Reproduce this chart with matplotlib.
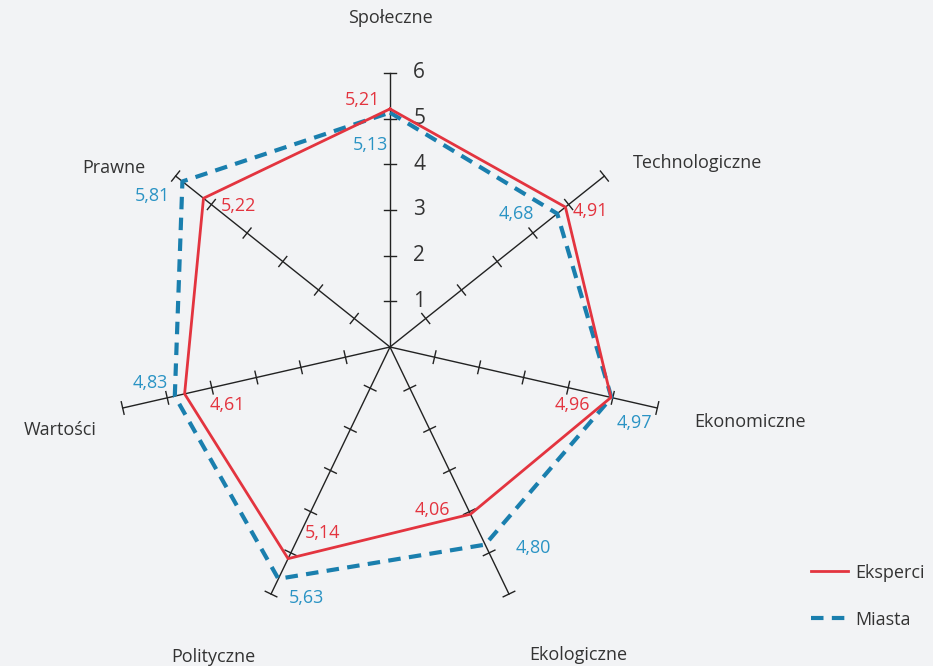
import numpy as np
import matplotlib.pyplot as plt

categories = ["Społeczne", "Technologiczne", "Ekonomiczne", "Ekologiczne",
              "Polityczne", "Wartości", "Prawne"]
eksperci = [5.21, 4.91, 4.96, 4.06, 5.14, 4.61, 5.22]
miasta = [5.13, 4.68, 4.97, 4.80, 5.63, 4.83, 5.81]
ticks = [1, 2, 3, 4, 5, 6]

bg = "#f2f3f5"
red = "#e3343f"
blue = "#1a7fae"
blue_txt = "#2a93c4"
txt = "#333333"

n = len(categories)
ang = np.pi / 2 - np.arange(n) * 2 * np.pi / n

fig = plt.figure(figsize=(9.33, 6.66), dpi=100, facecolor=bg)
ax = fig.add_axes([0, 0, 1, 1])
ax.set_facecolor(bg)
s = 45.7  # px per unit
ax.set_xlim(-390 / s, (933 - 390) / s)
ax.set_ylim(-(666 - 347) / s, 347 / s)
ax.axis("off")

# axes and ticks
for a in ang:
    ax.plot([0, 6 * np.cos(a)], [0, 6 * np.sin(a)], color="#222222", lw=1, zorder=1)
    px, py = -np.sin(a), np.cos(a)
    for t in ticks:
        cx, cy = t * np.cos(a), t * np.sin(a)
        ax.plot([cx - 0.14 * px, cx + 0.14 * px], [cy - 0.14 * py, cy + 0.14 * py],
                color="#222222", lw=1, zorder=1)

for t in ticks:
    ax.text(0.64, t, str(t), fontsize=15, color=txt, ha="center", va="center",
            family="Open Sans")

# series
def closed(v):
    v = np.array(v + v[:1])
    aa = np.append(ang, ang[0])
    return v * np.cos(aa), v * np.sin(aa)

x, y = closed(miasta)
ax.plot(x, y, color=blue, lw=3, ls=(0, (3, 2)), label="Miasta", zorder=3)
x, y = closed(eksperci)
ax.plot(x, y, color=red, lw=2, label="Eksperci", zorder=4)

# category labels (pixel positions)
cat_pos = [(390, 18), (698, 163), (750, 422), (578, 655), (213, 657), (60, 430), (114, 168)]
for c, (px_, py_) in zip(categories, cat_pos):
    ax.text((px_ - 390) / s, (347 - py_) / s, c, fontsize=13, color=txt,
            ha="center", va="center", family="Open Sans")

red_pos = [(362, 100), (590, 211), (572, 405), (432, 510), (323, 533), (227, 405), (239, 206)]
blue_pos = [(371, 145), (516, 214), (634, 423), (533, 548), (307, 598), (150, 383), (152, 196)]
for vals, pos, col in [(eksperci, red_pos, red), (miasta, blue_pos, blue_txt)]:
    for v, (px_, py_) in zip(vals, pos):
        ax.text((px_ - 390) / s, (347 - py_) / s, f"{v:.2f}".replace(".", ","),
                fontsize=13, color=col, ha="center", va="center", family="Open Sans")

h, l = ax.get_legend_handles_labels()
leg = ax.legend(h[::-1], l[::-1], loc="center left", bbox_to_anchor=(0.862, 0.105),
                frameon=False, labelspacing=1.6, handlelength=2.0,
                handletextpad=0.4, borderaxespad=0,
                prop={"family": "Open Sans", "size": 13})
for t in leg.get_texts():
    t.set_color(txt)

fig.savefig("out.png", dpi=100, facecolor=bg)
